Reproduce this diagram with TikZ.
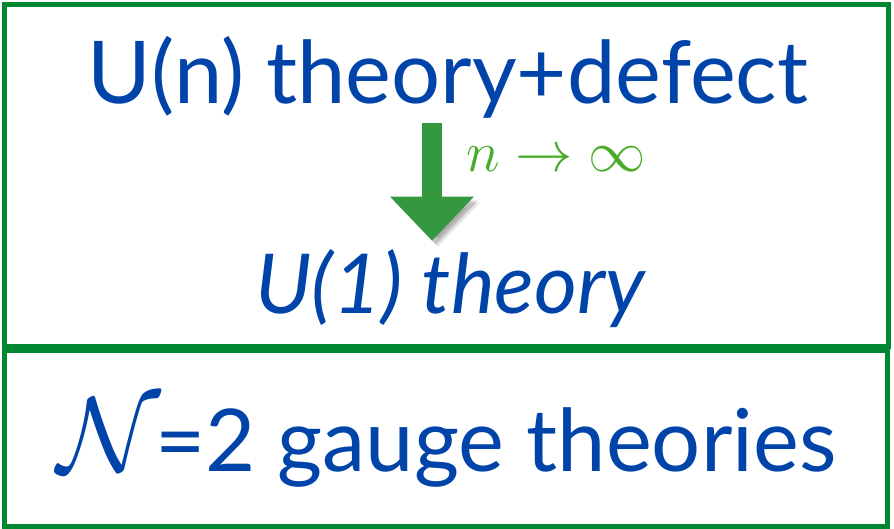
\RequirePackage{fix-cm}
\documentclass[tikz,border=0pt]{standalone}
\usepackage{fontspec}
\setmainfont{Lato}
\usetikzlibrary{arrows.meta}
\definecolor{slideblue}{RGB}{0,68,170}
\definecolor{framegreen}{RGB}{0,135,50}
\definecolor{arrowgreen}{RGB}{52,152,62}
\definecolor{limitgreen}{RGB}{72,172,40}
\begin{document}
\begin{tikzpicture}[x=0.75pt, y=-0.75pt,
  panel/.style={draw=framegreen, line width=3.75pt},
  title/.style={inner sep=0pt, anchor=base, text=slideblue, font=\fontsize{65}{70}\selectfont},
  limit/.style={inner sep=0pt, text=limitgreen, font=\fontsize{43}{46}\selectfont},
  bigarrow/.style={-{Triangle[width=60.75pt, length=33pt]}, line width=15pt, draw=arrowgreen,
    shorten <=3.75pt, shorten >=6pt,
    preaction={draw=black, opacity=0.16, transform canvas={shift={(3pt,-3pt)}}},
    preaction={draw=black, opacity=0.10, transform canvas={shift={(4.5pt,-4.5pt)}}}}
]
  \useasboundingbox (0,0) rectangle (894,529);

  % Two panels
  \draw[panel] (4.5,4.5) rectangle (888.5,346);
  \draw[panel] (4.5,350) rectangle (887,526);

  % Upper panel: the limit
  \node[title] (un) at (448,103) {U(n) theory+defect};
  \node[title, font=\fontsize{62}{66}\selectfont\itshape] (uone) at (450,313) {U(1) theory};
  \coordinate (arrx) at (432,0);
  \draw[bigarrow] (un.south -| arrx) -- (uone.north -| arrx);
  \node[limit, anchor=west] (lim) at (466,159) {$n\to\infty$};

  % Lower panel
  \node[title] (gauge) at (447,471) {{\fontsize{80}{80}\selectfont$\mathcal{N}$\kern-4pt}=2 gauge theories};
\end{tikzpicture}
\end{document}
